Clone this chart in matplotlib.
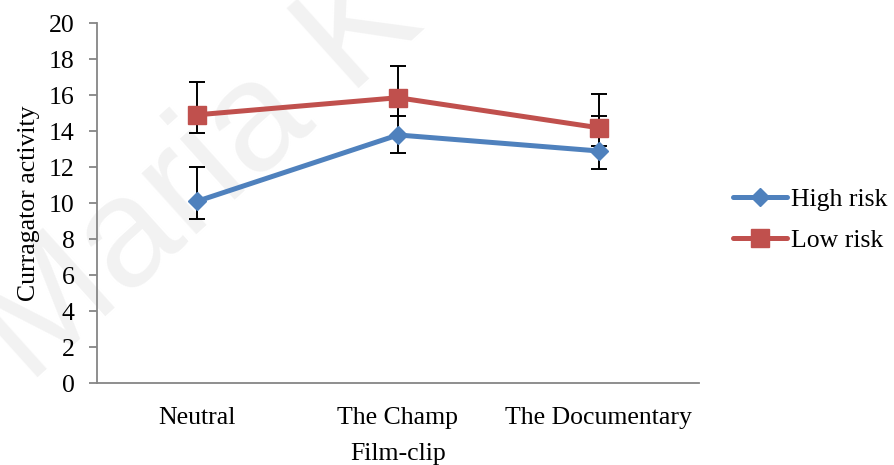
import matplotlib
matplotlib.use("Agg")
import matplotlib.pyplot as plt
import numpy as np

plt.rcParams['font.family'] = ['Liberation Serif', 'DejaVu Serif']

categories = ["Neutral", "The Champ", "The Documentary"]
high_risk = [10.1, 13.78, 12.89]
high_err_low = [1.0, 1.0, 1.0]
high_err_up = [1.88, 1.8, 1.94]
low_risk = [14.9, 15.85, 14.18]
low_err_low = [1.0, 1.02, 1.0]
low_err_up = [1.8, 1.78, 1.86]
y_ticks = [0, 2, 4, 6, 8, 10, 12, 14, 16, 18, 20]

blue = "#4F81BD"
red = "#C0504D"
axis_gray = "#868686"
fs = 18.5

fig = plt.figure(figsize=(8.94, 4.65), dpi=100)
ax = fig.add_axes([97 / 894, 82 / 465, 602 / 894, 360 / 465])

# faint watermark behind the plot
fig.text(0.032, 0.172, "Maria K", fontsize=112, family="Liberation Sans",
         color="#f2f2f2", rotation=42, rotation_mode="anchor",
         ha="left", va="baseline", zorder=-1)
ax.set_facecolor("none")

x = np.arange(len(categories))

ax.errorbar(x, high_risk, yerr=[high_err_low, high_err_up], fmt="none",
            ecolor="black", elinewidth=1.4, capsize=5.5, capthick=1.4, zorder=2)
ax.errorbar(x, low_risk, yerr=[low_err_low, low_err_up], fmt="none",
            ecolor="black", elinewidth=1.4, capsize=5.5, capthick=1.4, zorder=2)

ax.plot(x, high_risk, color=blue, lw=3.6, marker="D", ms=9.5,
        solid_capstyle="round", label="High risk", zorder=3)
ax.plot(x, low_risk, color=red, lw=3.6, marker="s", ms=13.5,
        solid_capstyle="round", label="Low risk", zorder=4)

ax.set_xlim(-0.5, 2.5)
ax.set_ylim(0, 20)
ax.set_yticks(y_ticks)
ax.set_xticks(x)
ax.set_xticklabels(categories)

for side in ["top", "right"]:
    ax.spines[side].set_visible(False)
for side in ["left", "bottom"]:
    ax.spines[side].set_color(axis_gray)
    ax.spines[side].set_linewidth(1.3)

ax.tick_params(axis="y", length=6, width=1.3, color=axis_gray,
               labelsize=fs, pad=10)
ax.tick_params(axis="x", length=0, labelsize=fs, pad=17)

ax.set_ylabel("Curragator activity", fontsize=fs, labelpad=6.5)
ax.set_xlabel("Film-clip", fontsize=fs, labelpad=10)

fig.legend(loc="center left", bbox_to_anchor=(733 / 894, 1 - 220 / 465),
           frameon=False, fontsize=fs, handlelength=2.1, handletextpad=0.15,
           labelspacing=0.7, borderpad=0, borderaxespad=0)

fig.savefig("out.png", dpi=100)
